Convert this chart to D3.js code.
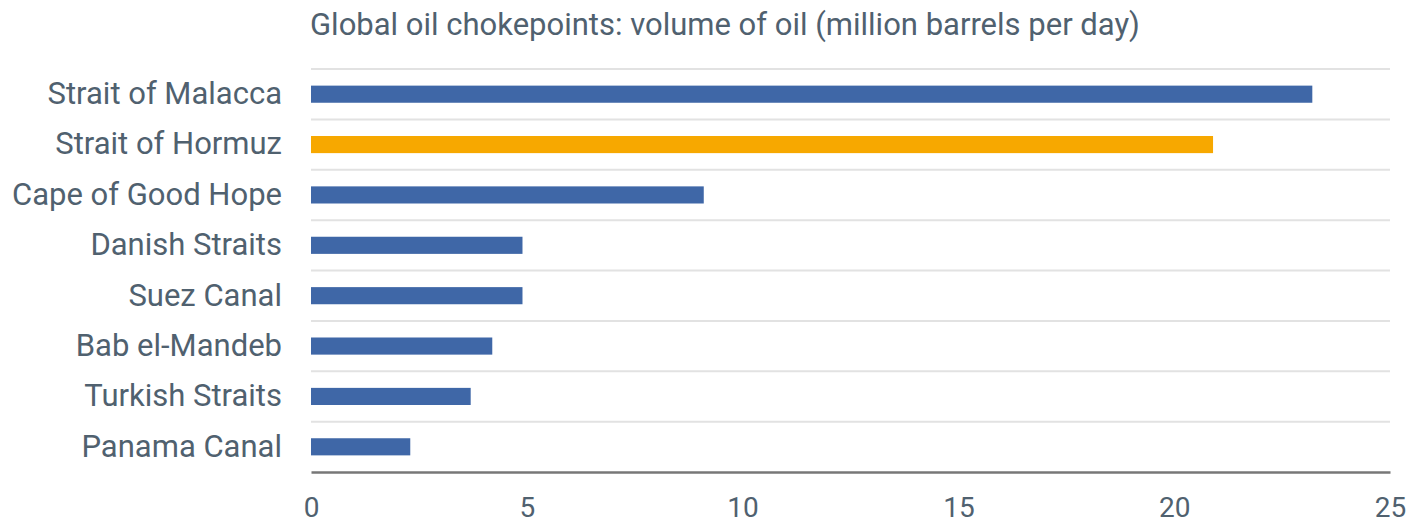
<html>
<head>
<script src="https://d3js.org/d3.v7.min.js"></script>
<style>
  body { margin: 0; background: #fff; }
  text { font-family: Roboto, sans-serif; fill: #50616f; }
</style>
</head>
<body>
<svg id="chart" width="1426" height="526"></svg>
<script>
const routes = ['Strait of Malacca', 'Strait of Hormuz', 'Cape of Good Hope', 'Danish Straits',
  'Suez Canal', 'Bab el-Mandeb', 'Turkish Straits', 'Panama Canal']
const volumes = [23.2, 20.9, 9.1, 4.9, 4.9, 4.2, 3.7, 2.3]
const highlight = ['Strait of Hormuz']
const xTicks = [0, 5, 10, 15, 20, 25]
const title = 'Global oil chokepoints: volume of oil (million barrels per day)'

const svg = d3.select('#chart')
const mLeft = 311, mRight = 1390, mTop = 69, mBottom = 472

const x = d3.scaleLinear().domain([0, 25]).range([mLeft, mRight])
const y = d3.scaleBand().domain(routes).range([mTop, mBottom]).paddingInner(0.66).paddingOuter(0.33)
const band = d3.scaleBand().domain(routes).range([mTop, mBottom])

svg.append('text')
  .attr('x', mLeft - 1).attr('y', 35)
  .style('font-size', '31px')
  .text(title)

// gridlines between rows
svg.append('g').selectAll('line')
  .data(routes)
  .join('line')
  .attr('x1', mLeft).attr('x2', mRight)
  .attr('y1', d => band(d)).attr('y2', d => band(d))
  .attr('stroke', '#e2e2e2').attr('stroke-width', 2)

svg.append('g').selectAll('rect')
  .data(routes)
  .join('rect')
  .attr('x', x(0))
  .attr('y', d => y(d))
  .attr('width', (d, i) => x(volumes[i]) - x(0))
  .attr('height', y.bandwidth())
  .attr('fill', d => highlight.includes(d) ? '#f7a800' : '#3f67a7')

const yAxis = svg.append('g')
  .attr('transform', `translate(${mLeft - 29},0)`)
  .call(d3.axisLeft(band).tickSize(0).tickPadding(0))
yAxis.select('.domain').remove()
yAxis.selectAll('text').style('font-size', '31px').attr('fill', null)

const xAxis = svg.append('g')
  .attr('transform', `translate(0,${mBottom})`)
  .call(d3.axisBottom(x).tickValues(xTicks).tickSize(0).tickPadding(25))
xAxis.select('.domain').attr('stroke', '#777').attr('stroke-width', 2.5)
xAxis.selectAll('text').style('font-size', '28px').attr('fill', null)
</script>
</body>
</html>
